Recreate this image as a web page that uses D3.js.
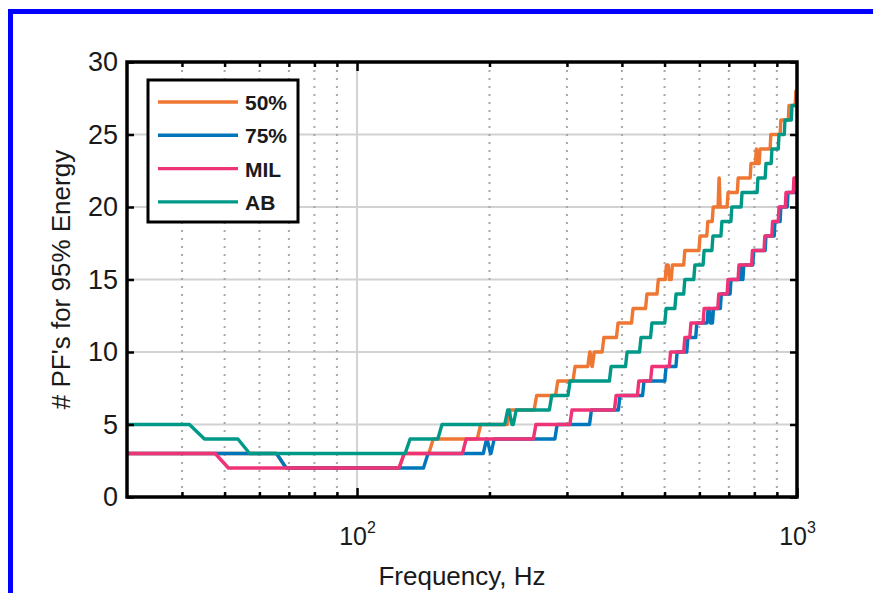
<!DOCTYPE html>
<html lang="en">
<head>
<meta charset="utf-8">
<title>PF count for 95% energy</title>
<script src="https://cdn.jsdelivr.net/npm/d3@7"></script>
<style>
  body { margin: 0; background: #fff; }
  svg text { font-family: "Liberation Sans", Arial, sans-serif; fill: #1a1a1a; }
</style>
</head>
<body>
<script>

// each series: frequency (Hz) where a level starts, and the PF count of that level
var f50 = [30, 69, 128, 149, 191, 223, 256, 286, 313, 338, 342, 346, 364, 392, 424, 456, 484, 505, 513, 521, 556, 602, 627, 645, 665, 669, 697, 735, 786, 808, 812, 824, 872, 919, 959, 994];
var v50 = [3, 2, 3, 4, 5, 6, 7, 8, 9, 10, 9, 10, 11, 12, 13, 14, 15, 16, 15, 16, 17, 18, 19, 20, 22, 20, 21, 22, 23, 24, 23, 24, 25, 26, 27, 28];

var f75 = [30, 69, 145, 197, 201, 205, 285, 341, 396, 449, 504, 534, 565, 592, 628, 636, 646, 673, 708, 745, 750, 757, 797, 850, 891, 919, 954];
var v75 = [3, 2, 3, 4, 3, 4, 5, 6, 7, 8, 9, 10, 11, 12, 13, 12, 13, 14, 15, 16, 15, 16, 17, 18, 19, 20, 21];

var fMIL = [30, 51, 128, 177, 255, 308, 388, 437, 468, 516, 556, 574, 615, 664, 697, 738, 792, 845, 880, 910, 944, 984];
var vMIL = [3, 2, 3, 4, 5, 6, 7, 8, 9, 10, 11, 12, 13, 14, 15, 16, 17, 18, 19, 20, 21, 22];

var fAB = [30, 45, 57, 132, 156, 220, 225, 230, 277, 305, 378, 411, 442, 468, 504, 531, 556, 586, 615, 644, 675, 711, 750, 815, 850, 877, 910, 939, 974];
var vAB = [5, 4, 3, 4, 5, 6, 5, 6, 7, 8, 9, 10, 11, 12, 13, 14, 15, 16, 17, 18, 19, 20, 21, 22, 23, 24, 25, 26, 27];

var names = ["50%", "75%", "MIL", "AB"];
var colors = ["#EE7733", "#0077BB", "#EE3377", "#009988"];

var yTicks = [0, 5, 10, 15, 20, 25, 30];
var xMajor = [100, 1000];
var xMinor = [40, 50, 60, 70, 80, 90, 200, 300, 400, 500, 600, 700, 800, 900];

var ramp = 3.4; // Hz, one sample step: each change is drawn across it

var w = 873, h = 593,
    pLeft = 127, pRight = 797, pTop = 62, pBottom = 497;

var svg = d3.select("body").append("svg")
    .attr("width", w)
    .attr("height", h);

// blue frame (only top and left edges show)
svg.append("rect").attr("x", 8).attr("y", 9).attr("width", w - 8).attr("height", 5).attr("fill", "#0000ff");
svg.append("rect").attr("x", 8).attr("y", 9).attr("width", 5).attr("height", h - 9).attr("fill", "#0000ff");

var x = d3.scaleLog().domain([30, 1000]).range([pLeft, pRight]);
var y = d3.scaleLinear().domain([0, 30]).range([pBottom, pTop]);

// grid
var grid = svg.append("g");
grid.selectAll(".hgrid")
    .data(yTicks.slice(1, -1))
    .enter().append("line")
    .attr("x1", pLeft).attr("x2", pRight)
    .attr("y1", function(d) { return y(d); })
    .attr("y2", function(d) { return y(d); })
    .attr("stroke", "#d2d2d2").attr("stroke-width", 2);
grid.append("line")
    .attr("x1", x(100)).attr("x2", x(100))
    .attr("y1", pTop).attr("y2", pBottom)
    .attr("stroke", "#d2d2d2").attr("stroke-width", 2);
grid.selectAll(".vgrid")
    .data(xMinor)
    .enter().append("line")
    .attr("x1", function(d) { return x(d); })
    .attr("x2", function(d) { return x(d); })
    .attr("y1", pTop).attr("y2", pBottom)
    .attr("stroke", "#a8a8a8").attr("stroke-width", 2)
    .attr("stroke-dasharray", "2,6");

// series
function stepPoints(fs, vs) {
    var pts = [[fs[0], vs[0]]];
    for (var i = 1; i < fs.length; i++) {
        var end = fs[i] - ramp;
        if (end > fs[i - 1]) pts.push([end, vs[i - 1]]);
        pts.push([fs[i], vs[i]]);
    }
    pts.push([1000, vs[vs.length - 1]]);
    return pts;
}

var series = [
    stepPoints(f50, v50),
    stepPoints(f75, v75),
    stepPoints(fMIL, vMIL),
    stepPoints(fAB, vAB)
];

svg.append("clipPath").attr("id", "plotclip")
    .append("rect")
    .attr("x", pLeft).attr("y", pTop)
    .attr("width", pRight - pLeft).attr("height", pBottom - pTop);

var line = d3.line()
    .x(function(d) { return x(d[0]); })
    .y(function(d) { return y(d[1]); });

svg.append("g")
    .attr("clip-path", "url(#plotclip)")
    .selectAll("path")
    .data(series)
    .enter().append("path")
    .attr("d", line)
    .attr("fill", "none")
    .attr("stroke", function(d, i) { return colors[i]; })
    .attr("stroke-width", 3.4)
    .attr("stroke-linejoin", "round");

// ticks, pointing inward
function ticks(axis, tx, ty) {
    var g = svg.append("g")
        .attr("transform", "translate(" + tx + "," + ty + ")")
        .call(axis);
    g.select(".domain").remove();
    g.selectAll(".tick line").attr("stroke", "#000").attr("stroke-width", 2.5);
    return g;
}
ticks(d3.axisBottom(x).tickValues(xMinor).tickSize(-5).tickFormat(""), 0, pBottom);
ticks(d3.axisTop(x).tickValues(xMinor).tickSize(-5).tickFormat(""), 0, pTop);
ticks(d3.axisTop(x).tickValues([100]).tickSize(-9).tickFormat(""), 0, pTop);
ticks(d3.axisRight(y).tickValues(yTicks).tickSize(-7).tickFormat(""), pRight, 0);

var yAxis = ticks(d3.axisLeft(y).tickValues(yTicks).tickSize(-7).tickPadding(9), pLeft, 0);
yAxis.selectAll(".tick text")
    .attr("font-size", 27)
    .attr("fill", "#1a1a1a")
    .style("font-family", "'Liberation Sans', Arial, sans-serif");

var xAxis = ticks(d3.axisBottom(x).tickValues(xMajor).tickSize(-9).tickFormat(""), 0, pBottom);
xAxis.selectAll(".tick").append("text")
    .attr("y", 48)
    .attr("text-anchor", "middle")
    .attr("fill", "#1a1a1a")
    .attr("font-size", 25)
    .style("font-family", "'Liberation Sans', Arial, sans-serif")
    .each(function(d) {
        var t = d3.select(this);
        t.append("tspan").text("10");
        t.append("tspan").attr("dy", -12).attr("font-size", 16).text(Math.round(Math.log10(d)));
    });

// axis box
svg.append("rect")
    .attr("x", pLeft).attr("y", pTop)
    .attr("width", pRight - pLeft).attr("height", pBottom - pTop)
    .attr("fill", "none").attr("stroke", "#000").attr("stroke-width", 3.5);

// axis titles
svg.append("text")
    .attr("x", (pLeft + pRight) / 2).attr("y", 585)
    .attr("text-anchor", "middle")
    .attr("font-size", 26)
    .text("Frequency, Hz");

svg.append("text")
    .attr("transform", "translate(70," + (pTop + pBottom) / 2 + ") rotate(-90)")
    .attr("text-anchor", "middle")
    .attr("font-size", 26)
    .text("# PF's for 95% Energy");

// legend
var lg = svg.append("g").attr("transform", "translate(148,80)");
lg.append("rect")
    .attr("width", 150).attr("height", 142)
    .attr("fill", "#fff").attr("stroke", "#000").attr("stroke-width", 3);
var items = lg.selectAll(".item")
    .data(names)
    .enter().append("g")
    .attr("transform", function(d, i) { return "translate(0," + (22 + i * 33.3) + ")"; });
items.append("line")
    .attr("x1", 10).attr("x2", 90)
    .attr("stroke", function(d, i) { return colors[i]; })
    .attr("stroke-width", 3.4);
items.append("text")
    .attr("x", 97).attr("y", 8)
    .attr("font-size", 21)
    .attr("font-weight", "bold")
    .text(function(d) { return d; });

</script>
</body>
</html>
